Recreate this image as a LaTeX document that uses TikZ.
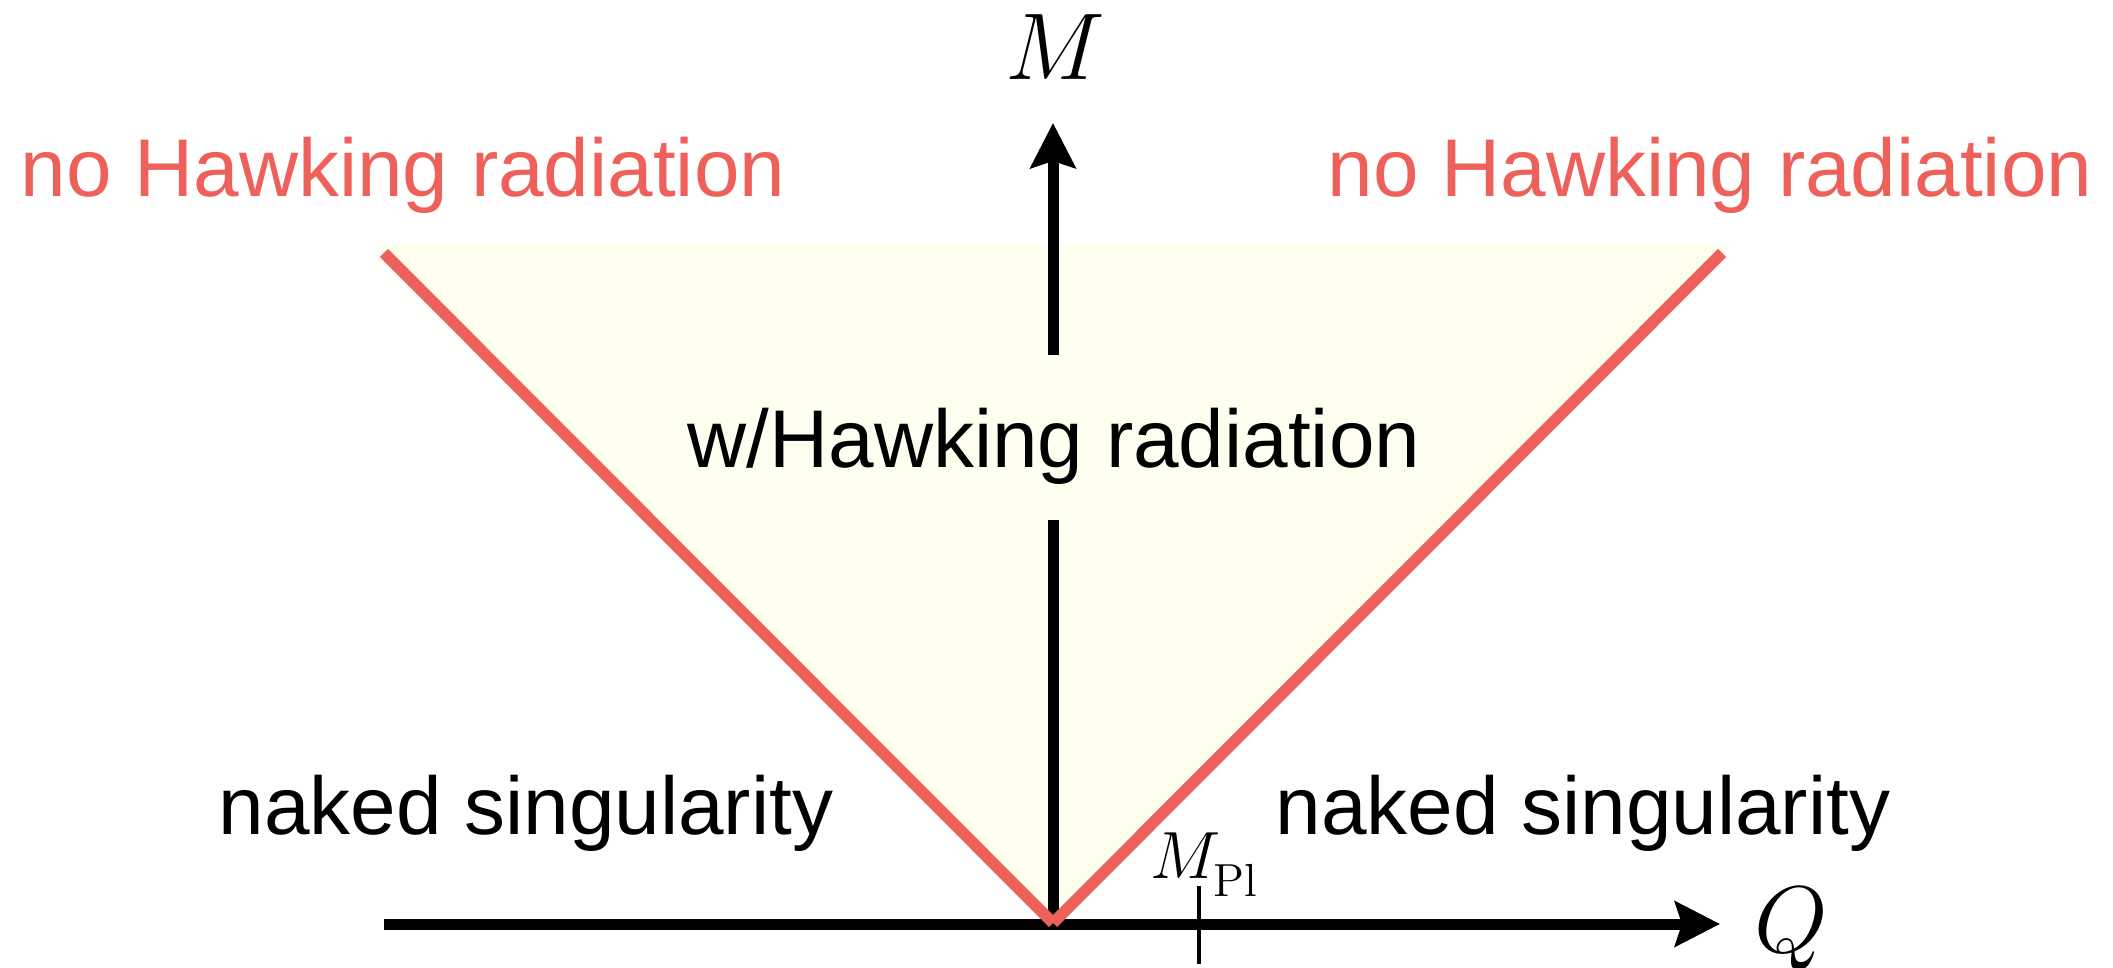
\documentclass[tikz,border=0pt]{standalone}
\usepackage{fontspec}
\newfontfamily\labelfont{Liberation Sans}
\usetikzlibrary{arrows.meta}
\definecolor{hawk}{RGB}{238,96,90}
\definecolor{wedge}{RGB}{255,255,240}

\begin{document}
\begin{tikzpicture}[
          axis/.style={line width=0.11cm, -{Stealth[length=0.45cm, width=0.45cm, inset=0.07cm]}},
          axisline/.style={line width=0.11cm},
          bound/.style={line width=0.115cm, hawk},
          region/.style={font=\labelfont\fontsize{23.3}{28}\selectfont, anchor=base, inner sep=0pt},
          noHR/.style={region, text=hawk},
          mathlabel/.style={font=\Huge, scale=1.085, anchor=base, inner sep=0pt}
      ]
        \useasboundingbox (0,0) rectangle (21.13,9.67);
        \coordinate (O)      at (10.53,0.44);
        \coordinate (ltop)   at (3.84,7.14);
        \coordinate (rtop)   at (17.22,7.14);
        \coordinate (qstart) at (3.84,0.43);
        \coordinate (qend)   at (17.20,0.43);
        \coordinate (gaplow) at (10.53,4.47);
        \coordinate (gaphigh) at (10.53,6.12);
        \coordinate (mend)   at (10.53,8.44);
        \coordinate (pltop)  at (11.99,0.81);
        \coordinate (plbot)  at (11.99,0.03);
        \fill[wedge] (O) -- (3.75,7.23) -- (17.31,7.23) -- cycle;
        \draw[axis] (qstart) -- (qend);
        \draw[axisline] (O) -- (gaplow);
        \draw[axis] (gaphigh) -- (mend);
        \draw[line width=0.04cm] (pltop) -- (plbot);
        \draw[bound] (O) -- (ltop);
        \draw[bound] (O) -- (rtop);
        \node[noHR] (noleft)  at (4.03,7.70)  {no Hawking radiation};
        \node[noHR] (noright) at (17.10,7.70) {no Hawking radiation};
        \node[region] (with)       at (10.54,4.99) {w/Hawking radiation};
        \node[region] (nakedleft)  at (5.26,1.32)  {naked singularity};
        \node[region] (nakedright) at (15.83,1.32) {naked singularity};
        \node[mathlabel] (mlabel) at (10.55,8.87) {$M$};
        \node[mathlabel] (qlabel) at (17.91,0.14) {$Q$};
        \node[font=\huge, scale=0.916, anchor=base west, inner sep=0pt] (mpl) at (11.50,0.89)
          {$M_{\lower2.5pt\hbox{$\scriptstyle\mathrm{Pl}$}}$};
      \end{tikzpicture}
\end{document}
